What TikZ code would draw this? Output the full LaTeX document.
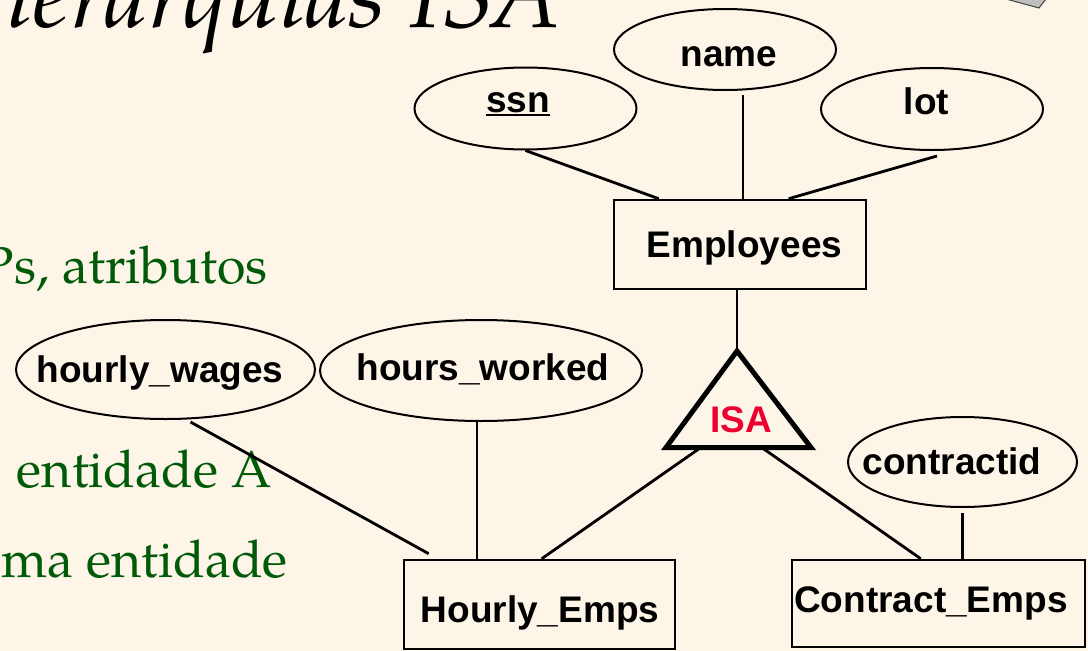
\documentclass[tikz,border=0pt]{standalone}
\usepackage{fontspec}
\setmainfont{TeX Gyre Pagella}
\newfontfamily\labelfont{Liberation Sans}
\usetikzlibrary{shapes.geometric,calc}

\definecolor{paper}{RGB}{254,245,233}
\definecolor{slidegreen}{RGB}{0,90,8}
\definecolor{isared}{RGB}{236,0,48}
\definecolor{boxgray}{RGB}{190,190,190}

\tikzset{
  attr/.style n args={2}{ellipse, draw, line width=2pt, fill=paper,
    minimum width=#1, minimum height=#2, inner sep=0pt},
  entity/.style n args={2}{rectangle, draw, line width=2.6pt, fill=paper,
    minimum width=#1, minimum height=#2, inner sep=0pt},
  lbl/.style={font=\labelfont\bfseries\fontsize{37}{40}\selectfont,
    inner sep=0pt, anchor=base},
  body/.style={text=slidegreen, font=\fontsize{52}{56}\selectfont,
    inner sep=0pt, anchor=base east},
  conn/.style={line width=2.8pt},
  isaedge/.style={line width=5pt, line join=miter},
}

\begin{document}
\begin{tikzpicture}[x=1pt, y=-1pt]
  % page
  \fill[paper] (0,0) rectangle (1088,651);
  \useasboundingbox (0,0) rectangle (1088,651);

  % slide title and body text
  \node[font=\itshape\fontsize{96}{100}\selectfont, inner sep=0pt,
        anchor=base east] (title) at (561,27) {ierarquias ISA};
  \node[body] (body1) at (268,283) {Ps, atributos};
  \node[body] (body2) at (272,487) {entidade A};
  \node[body] (body3) at (288,577) {ma entidade};

  % corner of the slide decoration
  \filldraw[fill=boxgray, draw=black!75, line width=1pt]
    (1006,-1) -- (1039,8) -- (1046,-1);

  % attributes
  \node[attr={222pt}{82pt}]  (ssn)     at (525.5,108.5) {};
  \node[attr={222pt}{81pt}]  (name)    at (725,49.5)    {};
  \node[attr={222pt}{82pt}]  (lot)     at (932,109)     {};
  \node[attr={299pt}{99pt}]  (hwages)  at (165.5,369.5) {};
  \node[attr={322pt}{101pt}] (hworked) at (481,370.5)   {};
  \node[attr={229pt}{90pt}]  (cid)     at (962.5,462)   {};

  % entity sets
  \node[entity={252pt}{89pt}] (emp)   at (740,244.5)   {};
  \node[entity={271pt}{89pt}] (hemps) at (539.5,604.5) {};
  \node[entity={293pt}{87pt}] (cemps) at (938.5,603.5) {};

  % ISA triangle
  \coordinate (isaT) at (737,351);
  \coordinate (isaL) at (666,447.5);
  \coordinate (isaR) at (811,447.5);
  \draw[isaedge] (isaT) -- (isaL) -- (isaR) -- cycle;

  % labels
  \node[lbl] (ssnT)     at (518,112)   {ssn};
  \draw[line width=2pt] ($(ssnT.base west)+(0,2.5)$) -- ($(ssnT.base east)+(0,2.5)$);
  \node[lbl] (nameT)    at (729,66)    {name};
  \node[lbl] (lotT)     at (926.5,114) {lot};
  \node[lbl] (empT)     at (744.5,257) {Employees};
  \node[lbl] (hwagesT)  at (160,382)   {hourly\_wages};
  \node[lbl] (hworkedT) at (483,380)   {hours\_worked};
  \node[lbl] (cidT)     at (952,474)   {contractid};
  \node[lbl] (hempsT)   at (540,622)   {Hourly\_Emps};
  \node[lbl] (cempsT)   at (931,612)   {Contract\_Emps};
  \node[lbl, text=isared] (isaLabel) at (741,432) {ISA};

  % connectors
  \coordinate (nameFoot) at ($(name.south)+(18,4)$);
  \coordinate (hwFoot)   at ($(hworked.south)+(-4,0)$);
  \coordinate (cidFoot)  at ($(cid.south)+(0,5)$);

  \draw[conn] (ssn.south) -- ($(emp.north west)+(46,0)$);
  \draw[conn] (nameFoot) -- (nameFoot |- emp.north);
  \draw[conn] ($(lot.south)+(5,5)$) -- ($(emp.north west)+(176,0)$);
  \draw[conn] (isaT |- emp.south) -- (isaT);
  \draw[conn] ($(isaL)!0.24!(isaR)$) -- ($(hemps.north west)+(139,0)$);
  \draw[conn] ($(isaL)!0.66!(isaR)$) -- ($(cemps.north west)+(130,0)$);
  \draw[conn] ($(hwages.south)+(25,2)$) -- ($(hemps.north west)+(26,-5)$);
  \draw[conn] (hwFoot) -- (hwFoot |- hemps.north);
  \draw[conn] (cidFoot) -- (cidFoot |- cemps.north);
\end{tikzpicture}
\end{document}
